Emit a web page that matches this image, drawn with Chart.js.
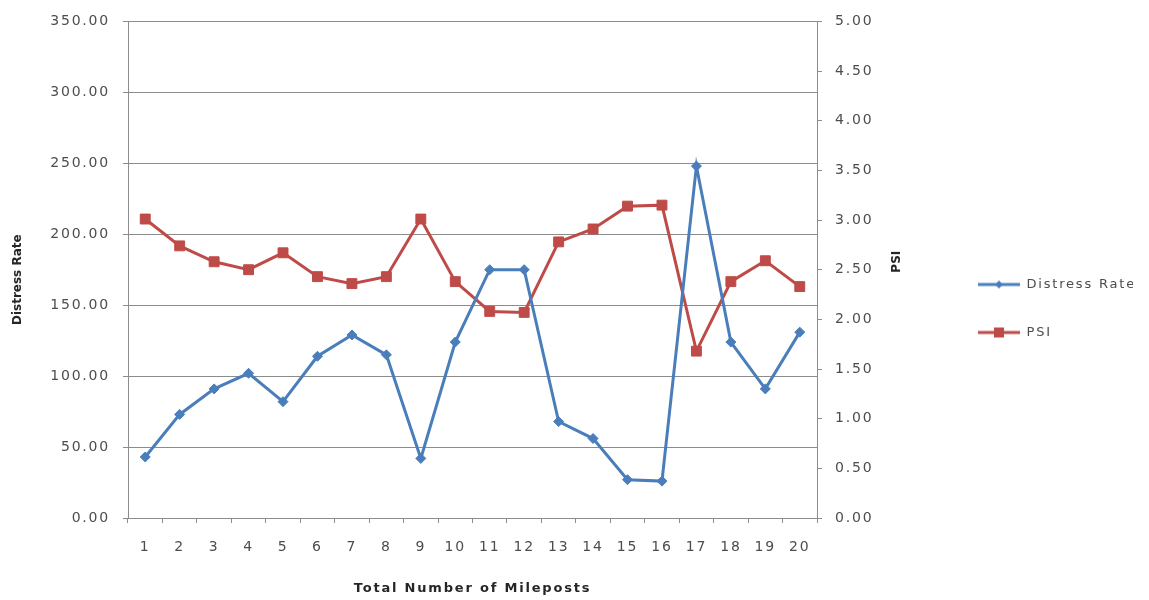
<!DOCTYPE html>
<html>
<head>
<meta charset="utf-8">
<script src="https://cdn.jsdelivr.net/npm/chart.js@4.4.1/dist/chart.umd.min.js"></script>
<style>
  html, body { margin: 0; padding: 0; background: #fff; }
  #wrap { width: 1149px; height: 600px; }
</style>
</head>
<body>
<div id="wrap"><canvas id="myChart" width="1149" height="600"></canvas></div>
<script>
// mileposts
let mileposts = ['1', '2', '3', '4', '5', '6', '7', '8', '9', '10',
                 '11', '12', '13', '14', '15', '16', '17', '18', '19', '20'];

// distress rate (left axis)
let distressRate = [43, 73, 91, 102, 82, 114, 129, 115, 42, 124,
                    175, 175, 68, 56, 27, 26, 248, 124, 91, 131];

// psi (right axis)
let psi = [3.01, 2.74, 2.58, 2.50, 2.67, 2.43, 2.36, 2.43, 3.01, 2.38,
           2.08, 2.07, 2.78, 2.91, 3.14, 3.15, 1.68, 2.38, 2.59, 2.33];

let blue = '#4A7EBB';
let red = '#BE4B48';
let gridColor = '#8c8c8c';
let textColor = '#4d4d4d';
let titleColor = '#262626';
let fontFamily = '"DejaVu Sans", sans-serif';

// legend icons: line with marker in the middle
function legendIcon(color, marker) {
    let c = document.createElement('canvas');
    c.width = 42;
    c.height = 14;
    let g = c.getContext('2d');
    g.strokeStyle = color;
    g.lineWidth = 3;
    g.beginPath();
    g.moveTo(0, 7);
    g.lineTo(42, 7);
    g.stroke();
    g.fillStyle = color;
    if (marker === 'diamond') {
        g.beginPath();
        g.moveTo(21, 3);
        g.lineTo(25, 7);
        g.lineTo(21, 11);
        g.lineTo(17, 7);
        g.closePath();
        g.fill();
    } else {
        g.fillRect(16, 2, 10, 10);
    }
    return c;
}
let icons = [legendIcon(blue, 'diamond'), legendIcon(red, 'square')];

// vertical axis titles, reading bottom to top
function sideTitle(ctx, text, x, y) {
    ctx.save();
    ctx.letterSpacing = '0px';
    ctx.font = 'bold 12px ' + fontFamily;
    ctx.fillStyle = titleColor;
    ctx.textAlign = 'center';
    ctx.textBaseline = 'middle';
    ctx.translate(x, y);
    ctx.rotate(-Math.PI / 2);
    ctx.fillText(text, 0, 0);
    ctx.restore();
}

// wide, Excel-like lettering for horizontal text
let spacing = {
    id: 'spacing',
    beforeUpdate(chart) { chart.ctx.letterSpacing = '1.8px'; },
    beforeDraw(chart) {
        chart.ctx.letterSpacing = '1.8px';
        let ctx = chart.ctx;
        ctx.save();
        ctx.fillStyle = '#fff';
        ctx.fillRect(0, 0, chart.width, chart.height);
        ctx.restore();
    },
    afterDraw(chart) {
        let a = chart.chartArea;
        let mid = (a.top + a.bottom) / 2;
        sideTitle(chart.ctx, 'Distress Rate', chart.scales.y.left + 18, mid + 10);
        sideTitle(chart.ctx, 'PSI', chart.scales.y1.left + 80, mid - 8);
    }
};

let ctx = document.getElementById('myChart').getContext('2d');

let chart = new Chart(ctx, {
    type: 'line',
    data: {
        labels: mileposts,
        datasets: [{
            label: 'Distress Rate',
            data: distressRate,
            yAxisID: 'y',
            borderColor: blue,
            backgroundColor: blue,
            borderWidth: 3,
            pointStyle: 'rectRot',
            pointRadius: 5,
            pointBorderWidth: 1,
            tension: 0
        }, {
            label: 'PSI',
            data: psi,
            yAxisID: 'y1',
            borderColor: red,
            backgroundColor: red,
            borderWidth: 3,
            pointStyle: 'rect',
            pointRadius: 7,
            pointBorderWidth: 1,
            tension: 0
        }]
    },
    options: {
        responsive: false,
        animation: false,
        layout: {
            padding: { left: 0, right: 16, top: 17, bottom: 0 }
        },
        plugins: {
            tooltip: { enabled: false },
            legend: {
                position: 'right',
                maxWidth: 190,
                labels: {
                    usePointStyle: true,
                    pointStyleWidth: 42,
                    padding: 35,
                    color: textColor,
                    font: { family: fontFamily, size: 13 },
                    generateLabels(chart) {
                        let items = Chart.defaults.plugins.legend.labels.generateLabels(chart);
                        items.forEach((item, i) => { item.pointStyle = icons[i]; });
                        return items;
                    }
                }
            }
        },
        scales: {
            x: {
                offset: true,
                afterFit(scale) { scale.height = 82; },
                grid: {
                    display: true,
                    drawOnChartArea: false,
                    drawTicks: true,
                    tickLength: 5,
                    offset: true,
                    color: gridColor
                },
                border: { display: true, color: gridColor },
                ticks: {
                    color: textColor,
                    padding: 16,
                    maxRotation: 0,
                    font: { family: fontFamily, size: 14 }
                },
                title: {
                    display: true,
                    text: 'Total Number of Mileposts',
                    color: titleColor,
                    padding: { top: 0, bottom: 4 },
                    font: { family: fontFamily, size: 13, weight: 'bold' }
                }
            },
            y: {
                position: 'left',
                min: 0,
                max: 350,
                afterFit(scale) { scale.width = 128; },
                grid: {
                    color: gridColor,
                    tickLength: 5
                },
                border: { display: true, color: gridColor },
                ticks: {
                    stepSize: 50,
                    color: textColor,
                    padding: 13,
                    font: { family: fontFamily, size: 14 },
                    callback: (v) => v.toFixed(2)
                }
            },
            y1: {
                position: 'right',
                min: 0,
                max: 5,
                afterFit(scale) { scale.width = 126; },
                grid: {
                    drawOnChartArea: false,
                    color: gridColor,
                    tickLength: 5
                },
                border: { display: true, color: gridColor },
                ticks: {
                    stepSize: 0.5,
                    color: textColor,
                    padding: 13,
                    font: { family: fontFamily, size: 14 },
                    callback: (v) => v.toFixed(2)
                }
            }
        }
    },
    plugins: [spacing]
});
</script>
</body>
</html>
